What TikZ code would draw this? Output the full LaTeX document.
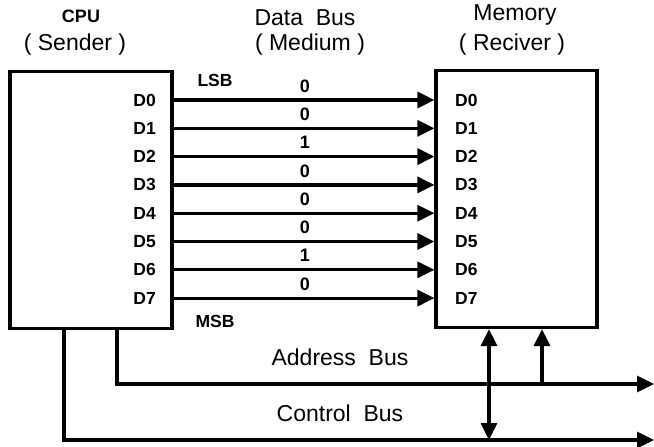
\documentclass[tikz,border=0pt]{standalone}
\usepackage{fontspec}
\setmainfont{Liberation Sans}
\usetikzlibrary{arrows.meta, positioning}

\tikzset{
  unit/.style={draw, line width=3.2pt, minimum width=162pt, minimum height=257pt, inner sep=0pt},
  pin/.style={font=\fontsize{17.5}{17.5}\selectfont\bfseries, inner sep=1pt},
  bit/.style={font=\fontsize{18}{18}\selectfont\bfseries, inner sep=1pt},
  title/.style={font=\fontsize{23}{24}\selectfont, inner sep=1pt},
  bus/.style={line width=3.2pt, -{Triangle[length=17pt,width=16pt]}},
}

\begin{document}
\begin{tikzpicture}[x=1pt, y=-1pt]
\useasboundingbox (0,0) rectangle (654,447);

\node[unit] (cpu) at (91,200) {};
\node[unit, minimum width=161pt] (mem) at (516.5,199) {};

% headings
\node[title, font=\fontsize{18}{18}\selectfont\bfseries] (cpuname) at (81,16) {CPU};
\node[title] (cpurole) at (75,45) {( Sender )};
\node[title] (busname) at (305,18) {Data~~Bus};
\node[title] (busrole) at (310,45) {( Medium )};
\node[title] (memname) at (515,15) {Memory};
\node[title] (memrole) at (512,45) {( Reciver )};

% data lines
\foreach \i/\b in {0/0,1/0,2/1,3/0,4/0,5/0,6/1,7/0} {
  \coordinate (s\i) at (172,{100+28.3*\i});
  \node[pin, anchor=east] (cpu-\i) at (157,{100+28.3*\i}) {D\i};
  \node[pin, anchor=west] (mem-\i) at (454,{100+28.3*\i}) {D\i};
  \node[bit] (bit-\i) at (305,{86+28.3*\i}) {\b};
  \draw[bus] (cpu.east |- s\i) -- (mem.west |- s\i);
}
\node[pin] (lsb) at (215,80) {LSB};
\node[pin] (msb) at (215,321) {MSB};

% address and control bus
\coordinate (abus) at (117,384);
\coordinate (cbus) at (64,440);
\coordinate (abend) at (654,384);
\coordinate (cbend) at (654,440);
\draw[bus] (cpu.south -| abus) |- (abend);
\draw[bus] (cpu.south -| cbus) |- (cbend);
\node[title] (ablabel) at (340,357) {Address~~Bus};
\node[title] (cblabel) at (340,413) {Control~~Bus};

\coordinate (ctl) at (489,440);
\coordinate (adr) at (542,384);
\draw[bus, {Triangle[length=17pt,width=16pt]}-{Triangle[length=17pt,width=16pt]}] (mem.south -| ctl) -- (ctl);
\draw[bus] (adr) -- (mem.south -| adr);
\end{tikzpicture}
\end{document}
